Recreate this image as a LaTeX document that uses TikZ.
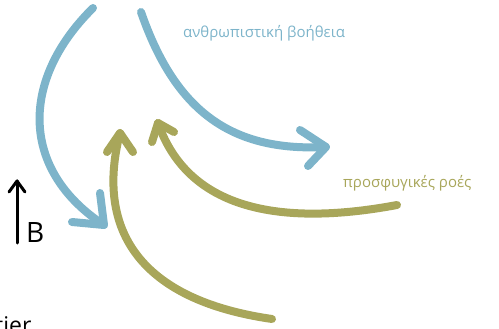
\documentclass[tikz,border=0pt]{standalone}
\usepackage{fontspec}
\setmainfont{Open Sans}
\definecolor{aidblue}{HTML}{7DB4CA}
\definecolor{flowgreen}{HTML}{A8A65A}
\tikzset{
  flow/.style={line width=8pt, line cap=round, line join=round},
  bluearrow/.style={flow, draw=aidblue},
  greenarrow/.style={flow, draw=flowgreen},
  lbl/.style={inner sep=0pt, anchor=base west}
}
\begin{document}
\begin{tikzpicture}[x=1pt,y=-1pt]
\useasboundingbox (0,0) rectangle (499,329);
% blue arrow 1
\coordinate (b1s) at (93,8);
\coordinate (b1t) at (104,225);
\draw[bluearrow] (b1s) .. controls (20,80) and (20,170) .. (b1t);
\draw[bluearrow] (100,193) -- (b1t) -- (72,222);
% blue arrow 2
\coordinate (b2s) at (141,12);
\coordinate (b2t) at (326,147);
\draw[bluearrow] (b2s) .. controls (175,110) and (230,152) .. (b2t);
\draw[bluearrow] (300,130) -- (b2t) -- (308,166);
% green arrow 1
\coordinate (g1s) at (272,319);
\coordinate (g1t) at (120,133);
\draw[greenarrow] (g1s) .. controls (140,300) and (95,230) .. (g1t);
\draw[greenarrow] (107,152) -- (g1t) -- (133,152);
% green arrow 2
\coordinate (g2s) at (397,205);
\coordinate (g2t) at (158,123);
\draw[greenarrow] (g2s) .. controls (290,225) and (190,215) .. (g2t);
\draw[greenarrow] (152,142) -- (g2t) -- (174,132);
% labels
\node[lbl, text=aidblue, font=\fontsize{15}{18}\selectfont] (aid) at (183,38) {ανθρωπιστική βοήθεια};
\node[lbl, text=flowgreen, font=\fontsize{15}{18}\selectfont] (ref) at (343,188) {προσφυγικές ροές};
% B arrow
\coordinate (bs) at (17,243);
\coordinate (bt) at (17,181);
\draw[line width=3pt, line cap=round, line join=round] (bs) -- (bt);
\draw[line width=3pt, line cap=round, line join=round] (9,192) -- (bt) -- (25,192);
\node[lbl, font=\fontsize{28}{32}\selectfont] (B) at (26,243) {B};
\node[lbl, font=\fontsize{23}{27}\selectfont] (tier) at (-5,334) {tier};
\end{tikzpicture}
\end{document}
